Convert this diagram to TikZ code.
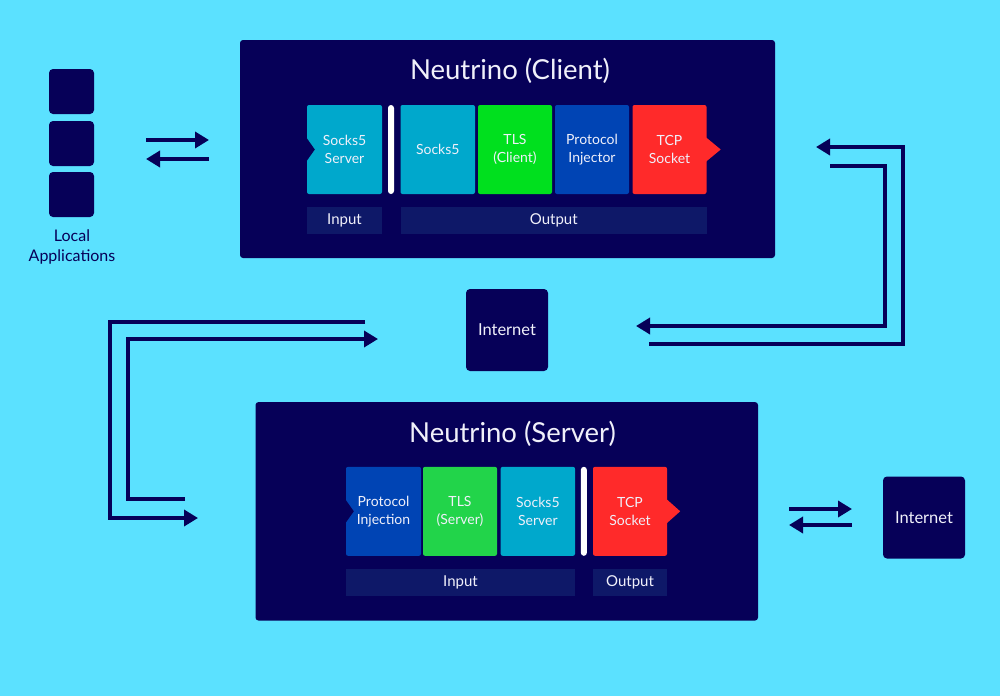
\documentclass[tikz,border=0pt]{standalone}
\usepackage{fontspec}
\setmainfont{Lato}
\usepackage{tikz}
\usetikzlibrary{arrows.meta}

\definecolor{skycyan}{RGB}{91,225,255}
\definecolor{deepnavy}{RGB}{6,0,88}
\definecolor{barnavy}{RGB}{14,24,104}
\definecolor{sockscyan}{RGB}{0,168,204}
\definecolor{tlsgreen}{RGB}{0,224,30}
\definecolor{tlsgreenb}{RGB}{34,212,74}
\definecolor{injblue}{RGB}{0,68,180}
\definecolor{tcpred}{RGB}{255,42,42}
\definecolor{paletext}{RGB}{240,240,250}

\tikzset{
  panel/.style={fill=deepnavy,rounded corners=3pt,inner sep=0pt},
  stage/.style={rounded corners=2pt,inner sep=0pt,minimum height=89pt,
    text=paletext,align=center,font=\fontsize{14}{18}\selectfont},
  divider/.style={fill=white,rounded corners=3pt,inner sep=0pt,
    minimum width=6pt,minimum height=89pt},
  tag/.style={fill=barnavy,inner sep=0pt,minimum height=27pt,
    text=paletext,font=\fontsize{15}{18}\selectfont},
  heading/.style={anchor=base,text=paletext,font=\fontsize{27.5}{30}\selectfont},
  netbox/.style={fill=deepnavy,rounded corners=4pt,inner sep=0pt,
    minimum size=82pt,text=paletext,font=\fontsize{16.5}{18}\selectfont},
  appbox/.style={fill=deepnavy,rounded corners=4pt,inner sep=0pt,minimum size=45pt},
  flow/.style={deepnavy,line width=4pt,line join=miter},
  flowtip/.style={flow,-{Triangle[length=14pt,width=16pt]}}
}

\begin{document}
\begin{tikzpicture}[x=1pt,y=-1pt]
% background
\fill[skycyan] (0,0) rectangle (1000,696);
\useasboundingbox (0,0) rectangle (1000,696);

% Client panel
\node[panel,minimum width=535pt,minimum height=218pt] (client) at (507.5,149) {};
\node[heading] (clientTitle) at (510,79.5) {Neutrino (Client)};
\node[stage,fill=sockscyan,minimum width=75pt] (cSocksSrv) at (344.5,149.5) {Socks5\\Server};
\node[divider] (cBar) at (391,149.5) {};
\node[stage,fill=sockscyan,minimum width=74.5pt] (cSocks) at (437.75,149.5) {Socks5};
\node[stage,fill=tlsgreen,minimum width=74pt] (cTLS) at (515,149.5) {TLS\\(Client)};
\node[stage,fill=injblue,minimum width=74pt] (cInj) at (592,149.5) {Protocol\\Injector};
\node[stage,fill=tcpred,minimum width=74pt] (cTCP) at (669.5,149.5) {TCP\\Socket};
\fill[deepnavy] (cSocksSrv.west) ++(-0.5,-12) -- ++(8.5,12) -- ++(-8.5,12) -- cycle;
\fill[tcpred] (cTCP.east) ++(-0.5,-12) -- ++(14.5,12) -- ++(-14.5,12) -- cycle;
\node[tag,minimum width=75pt] (cIn) at (344.5,220.5) {Input};
\node[tag,minimum width=306.5pt] (cOut) at (553.75,220.5) {Output};

% Server panel
\node[panel,minimum width=502.5pt,minimum height=218.5pt] (server) at (506.75,511.3) {};
\node[heading] (serverTitle) at (512.5,442) {Neutrino (Server)};
\node[stage,fill=injblue,minimum width=75pt] (sInj) at (383.5,511.3) {Protocol\\Injection};
\node[stage,fill=tlsgreenb,minimum width=74pt] (sTLS) at (460,511.3) {TLS\\(Server)};
\node[stage,fill=sockscyan,minimum width=74.3pt] (sSocks) at (537.85,511.3) {Socks5\\Server};
\node[divider] (sBar) at (583.85,511.3) {};
\node[stage,fill=tcpred,minimum width=74pt] (sTCP) at (630,511.3) {TCP\\Socket};
\fill[deepnavy] (sInj.west) ++(-0.5,-12) -- ++(8.5,12) -- ++(-8.5,12) -- cycle;
\fill[tcpred] (sTCP.east) ++(-0.5,-12) -- ++(13.5,12) -- ++(-13.5,12) -- cycle;
\node[tag,minimum width=229pt] (sIn) at (460.5,582.5) {Input};
\node[tag,minimum width=74pt] (sOut) at (630,582.5) {Output};

% Local applications
\node[appbox] (app1) at (71.5,91.5) {};
\node[appbox] (app2) at (71.5,143.5) {};
\node[appbox] (app3) at (71.5,194.5) {};
\node[text=deepnavy,align=center,font=\fontsize{16}{20}\selectfont] (appsLabel) at (72,247) {Local\\Applications};

% Internet boxes
\node[netbox] (netMid) at (507,330) {Internet};
\node[netbox] (netRight) at (924,517.5) {Internet};

% arrows between apps and client
\coordinate (appsOutA) at (146,140);
\coordinate (appsOutB) at (209,140);
\coordinate (appsInA) at (209,159);
\coordinate (appsInB) at (146,159);
\draw[flowtip] (appsOutA) -- (appsOutB);
\draw[flowtip] (appsInA) -- (appsInB);

% arrows between server and internet
\coordinate (netOutA) at (789,509);
\coordinate (netOutB) at (852,509);
\coordinate (netInA) at (852,525);
\coordinate (netInB) at (789,525);
\draw[flowtip] (netOutA) -- (netOutB);
\draw[flowtip] (netInA) -- (netInB);

% loop client <-> internet
\coordinate (rOuterStart) at (649,344);
\coordinate (rOuterEnd) at (816,147);
\coordinate (rInnerStart) at (830,165.5);
\coordinate (rInnerEnd) at (636,326);
\draw[flowtip] (rOuterStart) -- (903,344) -- (903,147) -- (rOuterEnd);
\draw[flowtip] (rInnerStart) -- (885,165.5) -- (885,326) -- (rInnerEnd);

% loop internet <-> server
\coordinate (lOuterStart) at (365,322);
\coordinate (lOuterEnd) at (198,518);
\coordinate (lInnerStart) at (185,499);
\coordinate (lInnerEnd) at (378,339);
\draw[flowtip] (lOuterStart) -- (110,322) -- (110,518) -- (lOuterEnd);
\draw[flowtip] (lInnerStart) -- (128,499) -- (128,339) -- (lInnerEnd);

\end{tikzpicture}
\end{document}
